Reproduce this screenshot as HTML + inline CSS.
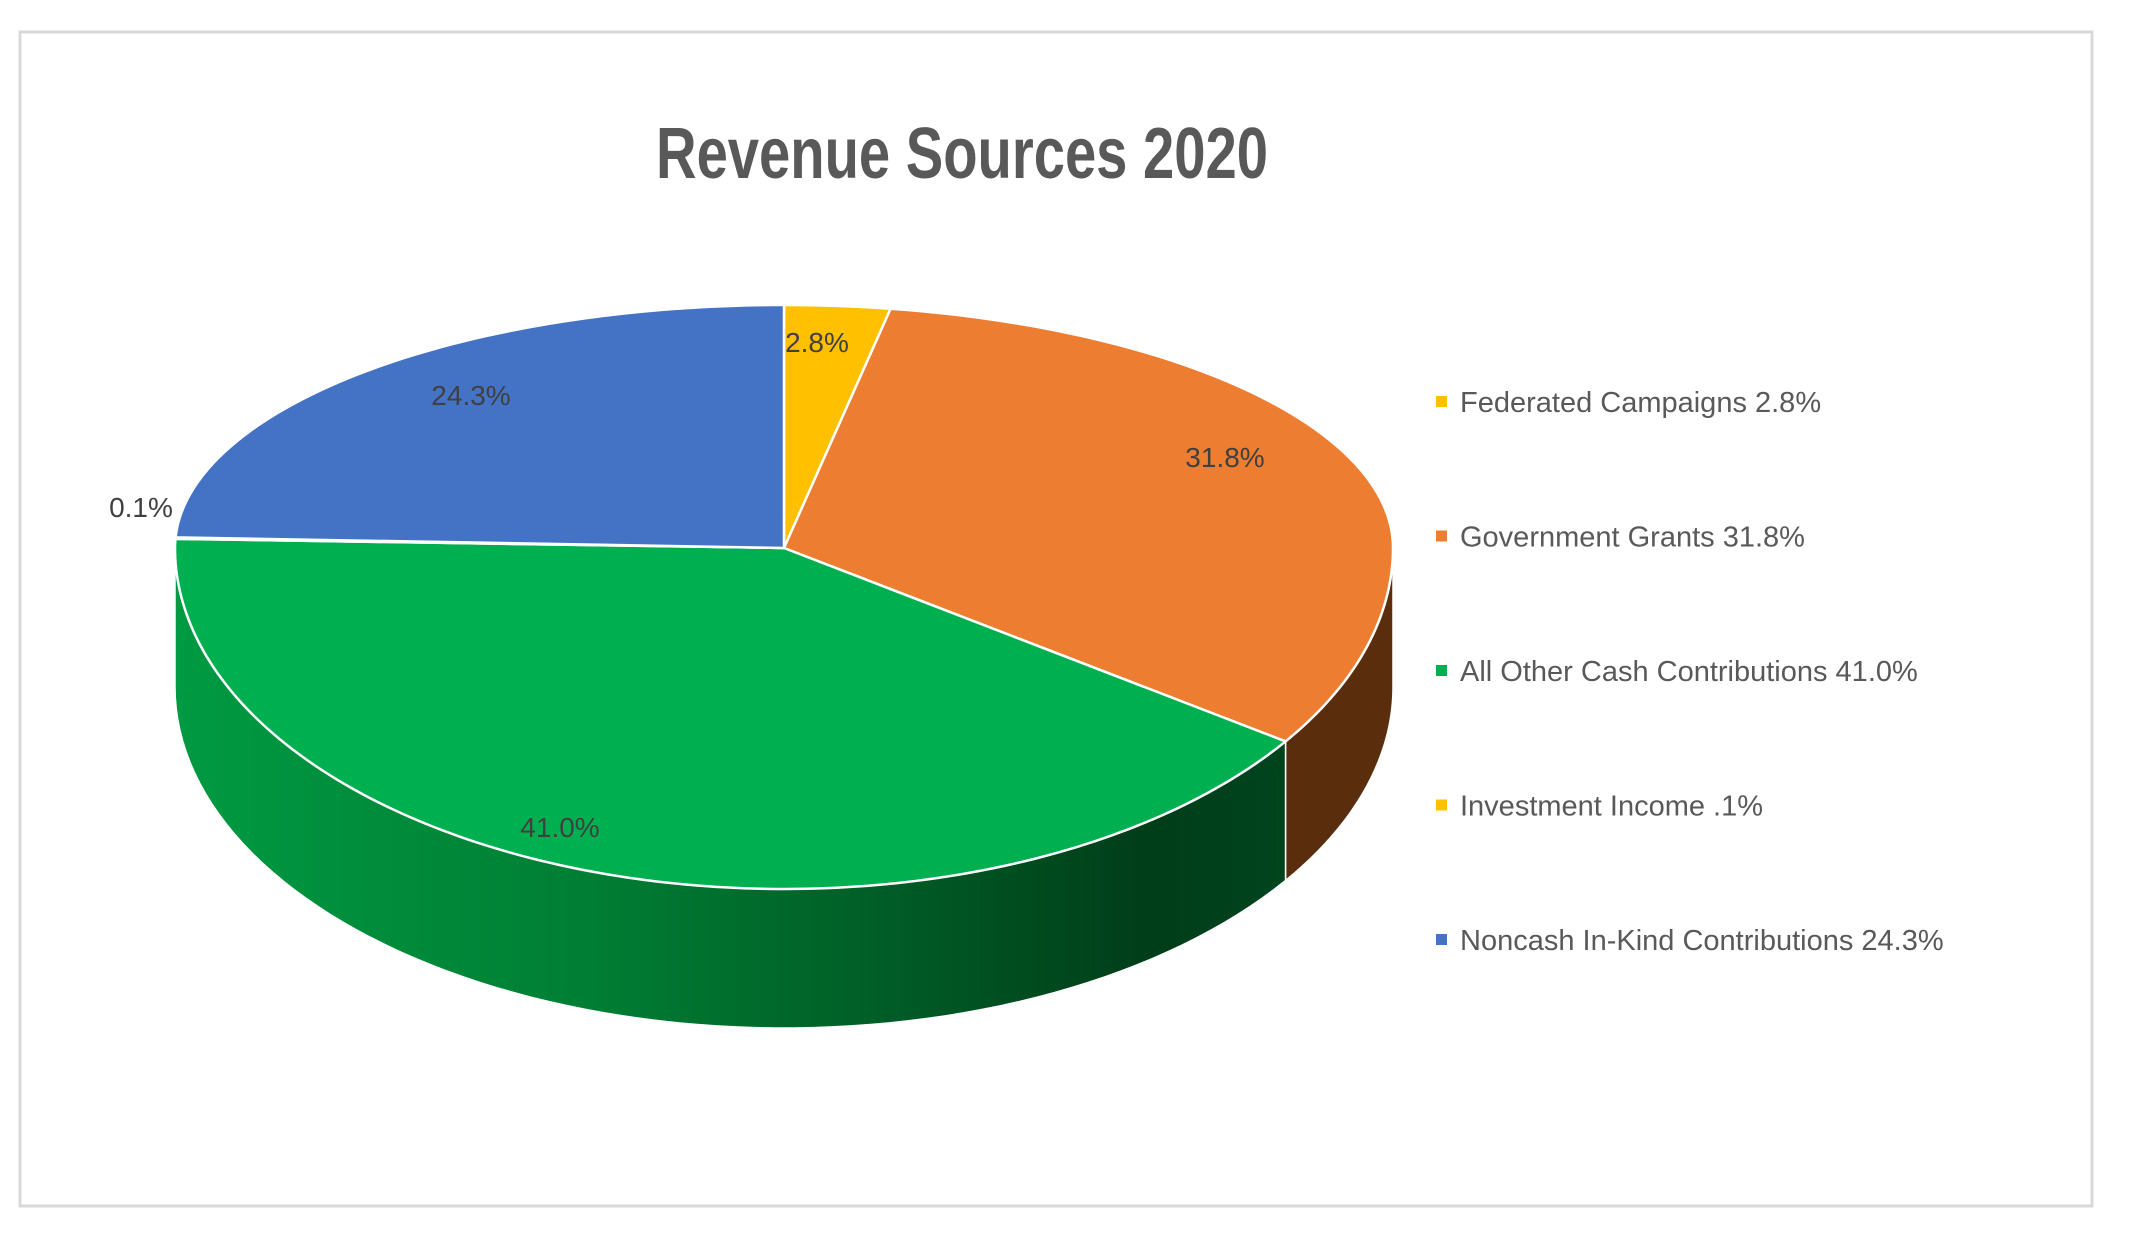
<!DOCTYPE html>
<html><head><meta charset="utf-8"><style>
html,body{margin:0;padding:0;background:#fff;}
svg{display:block;font-family:"Liberation Sans",sans-serif;}
</style></head><body>
<svg id="chart" width="2132" height="1240" viewBox="0 0 2132 1240" xmlns="http://www.w3.org/2000/svg">
<defs>
<linearGradient id="gside" x1="175" y1="0" x2="1393" y2="0" gradientUnits="userSpaceOnUse">
<stop offset="0" stop-color="#009a42"/><stop offset="0.35" stop-color="#007d33"/><stop offset="0.6" stop-color="#005a25"/><stop offset="0.8" stop-color="#003d19"/><stop offset="1" stop-color="#004a1f"/>
</linearGradient>
</defs>
<rect x="20" y="32" width="2072" height="1174" fill="#fff" stroke="#d9d9d9" stroke-width="3"/>
<text x="962" y="178" text-anchor="middle" font-size="72" font-weight="bold" fill="#595959" textLength="612" lengthAdjust="spacingAndGlyphs">Revenue Sources 2020</text>
<g id="sides"></g>
<g id="slices"></g>
<g id="labels"></g>
<g id="legend"></g>
</svg>
<script>
const categories = ["Federated Campaigns","Government Grants","All Other Cash Contributions","Investment Income","Noncash In-Kind Contributions"];
const values = [2.8, 31.8, 41.0, 0.1, 24.3];
const legendLabels = ["Federated Campaigns 2.8%","Government Grants 31.8%","All Other Cash Contributions 41.0%","Investment Income .1%","Noncash In-Kind Contributions 24.3%"];
const dataLabels = ["2.8%","31.8%","41.0%","0.1%","24.3%"];

const colors = ["#FFC000","#ED7D31","#00B050","#FFC000","#4472C4"];
const sideColors = ["#7a5c00","#5a2d0c","url(#gside)","#7a5c00","#22396a"];
const NS="http://www.w3.org/2000/svg";
const cx=784, cy=548, rx=609, ryTop=243, ryBot=341, depth=139;
function pt(t){const c=Math.cos(t);return [cx+rx*Math.sin(t), cy-(c>=0?ryTop:ryBot)*c];}
const total=values.reduce((a,b)=>a+b,0);
const sides=document.getElementById('sides'), slices=document.getElementById('slices'), labels=document.getElementById('labels'), legend=document.getElementById('legend');
let acc=0;
const labelPos=[[817,342],[1225,457],[560,827],[141,507],[471,395]];
values.forEach((v,i)=>{
  const t0=acc/total*2*Math.PI; acc+=v; const t1=acc/total*2*Math.PI;
  // side wall
  const s0=Math.max(t0,Math.PI/2), s1=Math.min(t1,3*Math.PI/2);
  if(s1>s0){
    let top=[],bot=[];const n=80;
    for(let k=0;k<=n;k++){const p=pt(s0+(s1-s0)*k/n);top.push(p);bot.push([p[0],p[1]+depth]);}
    const d='M'+top.map(p=>p.join(',')).join('L')+'L'+bot.reverse().map(p=>p.join(',')).join('L')+'Z';
    const ps=document.createElementNS(NS,'path');
    
    
    ps.setAttribute('d',d);ps.setAttribute('fill',sideColors[i]);
    ps.setAttribute('stroke','#fff');ps.setAttribute('stroke-width','1.5');
    sides.appendChild(ps);
  }
  // top face
  let pts=[[cx,cy]];const n=Math.max(4,Math.ceil((t1-t0)*60));
  for(let k=0;k<=n;k++)pts.push(pt(t0+(t1-t0)*k/n));
  const p=document.createElementNS(NS,'path');
  
  
  p.setAttribute('d','M'+pts.map(q=>q.join(',')).join('L')+'Z');
  p.setAttribute('fill',colors[i]);p.setAttribute('stroke','#fff');p.setAttribute('stroke-width','2.5');p.setAttribute('stroke-linejoin','round');
  slices.appendChild(p);
  // data label
  const tx=document.createElementNS(NS,'text');
  
  
  tx.setAttribute('x',labelPos[i][0]);tx.setAttribute('y',labelPos[i][1]+10);
  tx.setAttribute('text-anchor','middle');tx.setAttribute('font-size','28');tx.setAttribute('fill','#404040');
  tx.textContent=dataLabels[i];labels.appendChild(tx);
  // legend
  const ly=402+i*134.5;
  const sq=document.createElementNS(NS,'rect');
  
  
  sq.setAttribute('x',1436);sq.setAttribute('y',ly-6);sq.setAttribute('width',11);sq.setAttribute('height',11);sq.setAttribute('fill',colors[i]);
  legend.appendChild(sq);
  const lt=document.createElementNS(NS,'text');
  
  
  lt.setAttribute('x',1460);lt.setAttribute('y',ly+10);lt.setAttribute('font-size','29');lt.setAttribute('fill','#595959');
  lt.textContent=legendLabels[i];legend.appendChild(lt);
});
</script>
</body></html>
